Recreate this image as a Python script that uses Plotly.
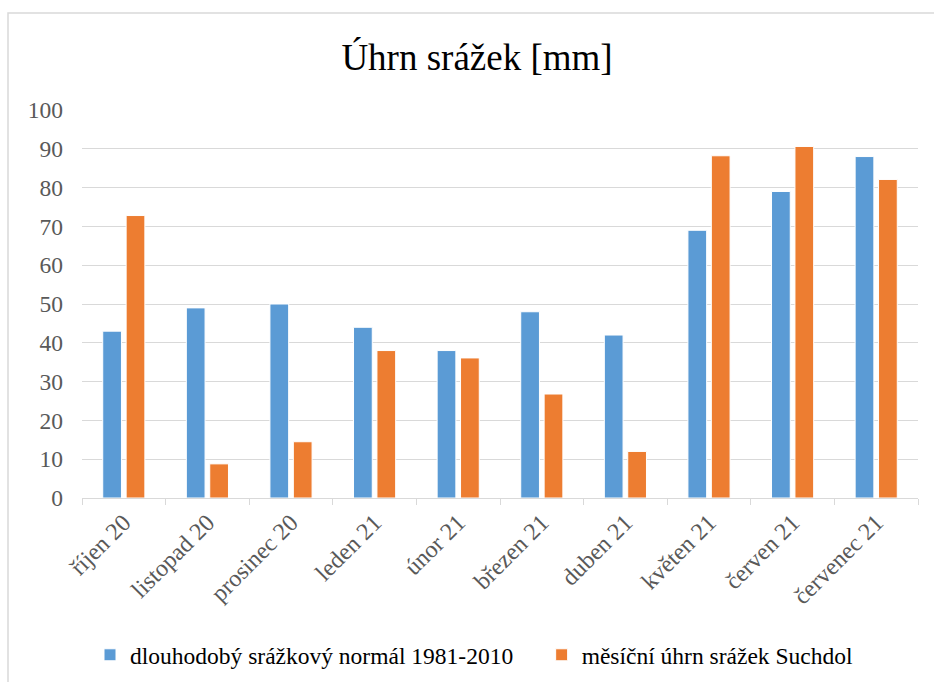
import plotly.graph_objects as go

categories = ["říjen 20", "listopad 20", "prosinec 20", "leden 21", "únor 21",
              "březen 21", "duben 21", "květen 21", "červen 21", "červenec 21"]
normal_1981_2010 = [43, 49, 50, 44, 38, 48, 42, 69, 79, 88]
suchdol = [72.8, 8.8, 14.5, 38, 36.1, 26.8, 12, 88.2, 90.6, 82.1]
y_ticks = [0, 10, 20, 30, 40, 50, 60, 70, 80, 90, 100]
series_names = ["dlouhodobý srážkový normál 1981-2010", "měsíční úhrn srážek Suchdol"]

FONT = "Liberation Serif"
W, H = 934, 682
ml, mr, mt, mb = 82, 16, 110, 184
PAD = "\u00a0" * 4  # extra spacing between legend entries

fig = go.Figure()
fig.add_trace(go.Bar(x=categories, y=normal_1981_2010, name=series_names[0] + PAD,
                     marker=dict(color="#5B9BD5", line=dict(color="white", width=1))))
fig.add_trace(go.Bar(x=categories, y=suchdol, name=series_names[1],
                     marker=dict(color="#ED7D31", line=dict(color="white", width=1))))

pw, ph = W - ml - mr, H - mt - mb
# outer chart frame (only top and left edges visible in the crop)
fig.add_shape(type="rect", xref="paper", yref="paper",
              x0=(8 - ml) / pw, x1=(W + 10 - ml) / pw,
              y0=-(H + 10 - mt - ph) / ph, y1=1 + (mt - 13) / ph,
              line=dict(color="#D9D9D9", width=1.5), layer="below")

fig.update_layout(
    width=W, height=H,
    margin=dict(l=ml, r=mr, t=mt, b=mb, autoexpand=False),
    paper_bgcolor="white", plot_bgcolor="white",
    barmode="group", bargap=0.44, bargroupgap=0.2,
    title=dict(text="Úhrn srážek [mm]", x=477 / W, xref="container", xanchor="center",
               y=1 - 57 / H, yanchor="middle",
               font=dict(family=FONT, size=37, color="#000000")),
    font=dict(family=FONT, size=23, color="#595959"),
    xaxis=dict(tickangle=-45, tickson="boundaries", ticks="outside", ticklen=6,
               tickcolor="#D9D9D9", showline=True, linecolor="#D9D9D9", linewidth=1,
               showgrid=False, automargin=False,
               tickfont=dict(family=FONT, size=24, color="#595959")),
    yaxis=dict(range=[0, 100], tickvals=y_ticks, showgrid=True, gridcolor="#D9D9D9",
               gridwidth=1, zeroline=False, showline=False, ticks="", automargin=False,
               ticklabelstandoff=18,
               tickfont=dict(family=FONT, size=23.5, color="#595959")),
    legend=dict(orientation="h", x=(90 - ml) / pw, xanchor="left", y=-(655 - mt - ph) / ph,
                yanchor="middle", font=dict(family=FONT, size=23.5, color="#000000"),
                itemwidth=30, traceorder="normal"),
)

fig.write_html("out.html", config={"displayModeBar": False},
               post_script="document.body.style.margin='0px';")
